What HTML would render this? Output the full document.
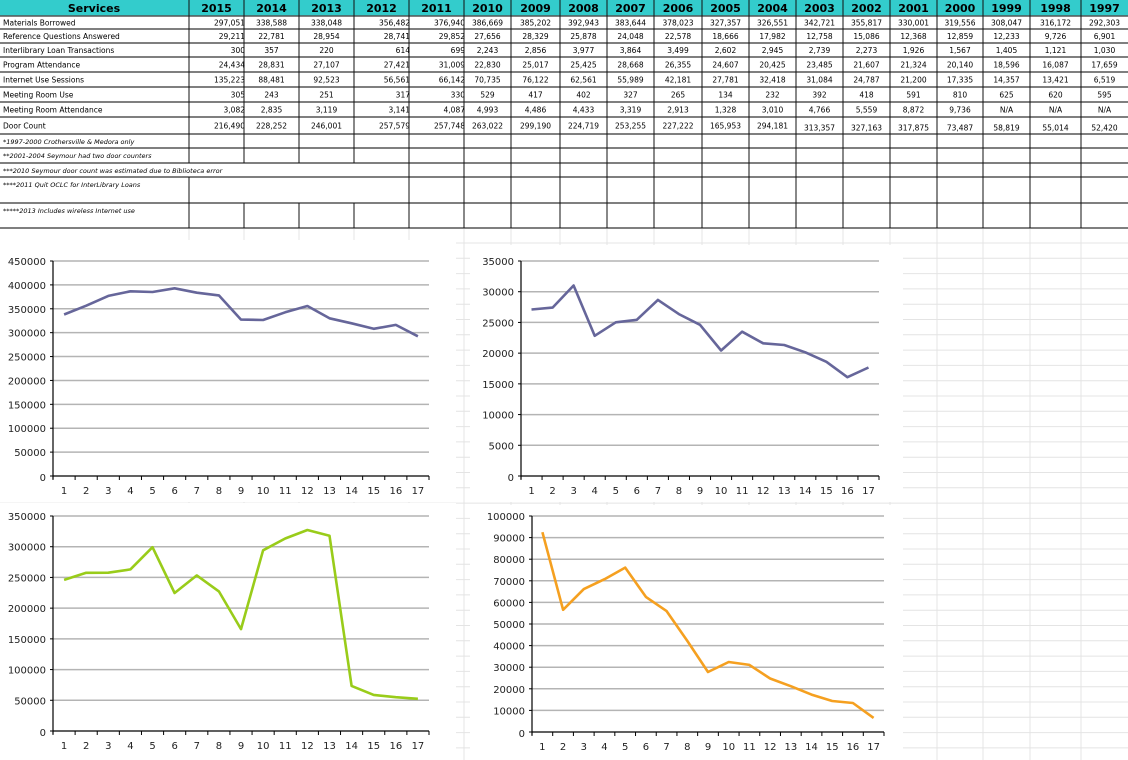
<!DOCTYPE html>
<html><head><meta charset="utf-8">
<style>
html,body{margin:0;padding:0;background:#fff;}
svg{display:block;font-family:"DejaVu Sans","Liberation Sans",sans-serif;}
</style></head>
<body>
<svg id="root" width="1128" height="760" viewBox="0 0 1128 760" xmlns="http://www.w3.org/2000/svg">
<g id="bggrid"></g>
<g id="table"></g>
<g id="charts"></g>
</svg>
<script>
const years=["2015","2014","2013","2012","2011","2010","2009","2008","2007","2006","2005","2004","2003","2002","2001","2000","1999","1998","1997"];
const services=["Materials Borrowed","Reference Questions Answered","Interlibrary Loan Transactions","Program Attendance","Internet Use Sessions","Meeting Room Use","Meeting Room Attendance","Door Count"];
const rowMaterials=["297,051","338,588","338,048","356,482","376,940","386,669","385,202","392,943","383,644","378,023","327,357","326,551","342,721","355,817","330,001","319,556","308,047","316,172","292,303"];
const rowReference=["29,211","22,781","28,954","28,741","29,852","27,656","28,329","25,878","24,048","22,578","18,666","17,982","12,758","15,086","12,368","12,859","12,233","9,726","6,901"];
const rowILL=["300","357","220","614","699","2,243","2,856","3,977","3,864","3,499","2,602","2,945","2,739","2,273","1,926","1,567","1,405","1,121","1,030"];
const rowProgram=["24,434","28,831","27,107","27,421","31,009","22,830","25,017","25,425","28,668","26,355","24,607","20,425","23,485","21,607","21,324","20,140","18,596","16,087","17,659"];
const rowInternet=["135,223","88,481","92,523","56,561","66,142","70,735","76,122","62,561","55,989","42,181","27,781","32,418","31,084","24,787","21,200","17,335","14,357","13,421","6,519"];
const rowMRUse=["305","243","251","317","330","529","417","402","327","265","134","232","392","418","591","810","625","620","595"];
const rowMRAtt=["3,082","2,835","3,119","3,141","4,087","4,993","4,486","4,433","3,319","2,913","1,328","3,010","4,766","5,559","8,872","9,736","N/A","N/A","N/A"];
const rowDoor=["216,490","228,252","246,001","257,579","257,748","263,022","299,190","224,719","253,255","227,222","165,953","294,181","313,357","327,163","317,875","73,487","58,819","55,014","52,420"];
const notes=["*1997-2000 Crothersville & Medora only","**2001-2004 Seymour had two door counters","***2010 Seymour door count was estimated due to Biblioteca error","****2011 Quit OCLC for InterLibrary Loans","*****2013 Includes wireless Internet use"];

const cats=["1","2","3","4","5","6","7","8","9","10","11","12","13","14","15","16","17"];
const materialsSeries=[338048,356482,376940,386669,385202,392943,383644,378023,327357,326551,342721,355817,330001,319556,308047,316172,292303];
const programSeries=[27107,27421,31009,22830,25017,25425,28668,26355,24607,20425,23485,21607,21324,20140,18596,16087,17659];
const doorSeries=[246001,257579,257748,263022,299190,224719,253255,227222,165953,294181,313357,327163,317875,73487,58819,55014,52420];
const internetSeries=[92523,56561,66142,70735,76122,62561,55989,42181,27781,32418,31084,24787,21200,17335,14357,13421,6519];
const ticks1=[0,50000,100000,150000,200000,250000,300000,350000,400000,450000];
const ticks2=[0,5000,10000,15000,20000,25000,30000,35000];
const ticks3=[0,50000,100000,150000,200000,250000,300000,350000];
const ticks4=[0,10000,20000,30000,40000,50000,60000,70000,80000,90000,100000];

const NS="http://www.w3.org/2000/svg";
function mk(parent,tag,attrs,text){const e=document.createElementNS(NS,tag);for(const k in attrs)e.setAttribute(k,attrs[k]);if(text!==undefined)e.textContent=text;parent.appendChild(e);return e;}

const colX=[0,189,244,299,354,409,464,511,560,607,654,702,749,796,843,890,937,983,1030,1081,1128];
const rowY=[16,29,43,57,72,87,102,117,134];
const noteY=[134,148,163,177,203,228];

const bg=document.getElementById('bggrid');
for(let y=243;y<760;y+=15.3){
  const l=mk(bg,'line',{x1:0,x2:1128,y1:y,y2:y,stroke:'#e4e4e4','stroke-width':1});
  
  
}
for(let i=1;i<colX.length-1;i++){
  const l=mk(bg,'line',{x1:colX[i],x2:colX[i],y1:229,y2:760,stroke:'#e4e4e4','stroke-width':1});
  
  
}

const tb=document.getElementById('table');
const hdr=mk(tb,'rect',{x:0,y:0,width:1128,height:16,fill:'#33cccc'});


const sh=mk(tb,'text',{x:94,y:12,'text-anchor':'middle','font-size':11,'font-weight':'bold',fill:'#000'},'Services');


years.forEach((yr,i)=>{
  const t=mk(tb,'text',{x:(colX[i+1]+colX[i+2])/2,y:12,'text-anchor':'middle','font-size':11,'font-weight':'bold',fill:'#000'},yr);
  
  
});
const rows=[rowMaterials,rowReference,rowILL,rowProgram,rowInternet,rowMRUse,rowMRAtt,rowDoor];
const rightAlign=[0,3,4];
rows.forEach((r,ri)=>{
  const yTop=rowY[ri],yB=rowY[ri+1],ty=(yTop+yB)/2+3;
  const lab=mk(tb,'text',{x:3,y:ty,'font-size':7.5,fill:'#000'},services[ri]);
  
  
  r.forEach((v,ci)=>{
    const x0=colX[ci+1],x1=colX[ci+2];
    let t;
    if(rightAlign.includes(ci)) t=mk(tb,'text',{x:x1+1,y:ty,'text-anchor':'end','font-size':7.5,fill:'#000'},v);
    else t=mk(tb,'text',{x:(x0+x1)/2,y:ty+(ri===7&&ci>=12?2:0),'text-anchor':'middle','font-size':7.5,fill:'#000'},v);
    
    
  });
});
notes.forEach((n,i)=>{
  const t=mk(tb,'text',{x:3,y:noteY[i]+10,'font-size':6.5,'font-style':'italic',fill:'#000'},n);
  
  
});
[...rowY,...noteY.slice(1)].forEach(y=>{
  const l=mk(tb,'line',{x1:0,x2:1128,y1:y,y2:y,stroke:'#555',"stroke-width":1.6});
  
  
});
for(let i=1;i<colX.length-1;i++){
  const x=colX[i];
  let segs=[[0,228]];
  if(i>=1&&i<=4){
    if(i===1) segs=[[0,163],[177,228]];
    else segs=[[0,163],[203,228]];
  }
  segs.forEach(s=>{
    const l=mk(tb,'line',{x1:x,x2:x,y1:s[0],y2:s[1],stroke:'#111','stroke-width':1});
    
    
  });
}

const ch=document.getElementById('charts');
function chart(name,box,plot,ticks,series,color){
  const g=mk(ch,'g',{});
  
  
  const bgR=mk(g,'rect',{x:box[0],y:box[1],width:box[2],height:box[3],fill:'#fff'});
  
  
  const [L,T,R,B]=plot; const maxV=ticks[ticks.length-1];
  const yS=v=>B-(v/maxV)*(B-T);
  const step=(R-L)/cats.length;
  const xS=i=>L+(i+0.5)*step;
  ticks.forEach(tv=>{
    const y=yS(tv);
    if(tv>0){const gl=mk(g,'line',{x1:L,x2:R,y1:y,y2:y,stroke:'#b4b4b4','stroke-width':1.5});
    
    }
    const tk=mk(g,'line',{x1:L-3,x2:L,y1:y,y2:y,stroke:'#000','stroke-width':1});
    
    
    const lb=mk(g,'text',{x:L-7,y:y+(tv===0?5:4),'text-anchor':'end','font-size':10,fill:'#222'},String(tv));
    
    
  });
  const ya=mk(g,'line',{x1:L,x2:L,y1:T,y2:B+3,stroke:'#000','stroke-width':1.2});
  
  
  const xa=mk(g,'line',{x1:L,x2:R,y1:B,y2:B,stroke:'#000','stroke-width':1.2});
  
  
  for(let i=0;i<=cats.length;i++){
    const x=L+i*step;
    const tk=mk(g,'line',{x1:x,x2:x,y1:B,y2:B+4,stroke:'#000','stroke-width':1});
    
    
  }
  cats.forEach((c,i)=>{
    const lb=mk(g,'text',{x:xS(i),y:B+18,'text-anchor':'middle','font-size':10,fill:'#222'},c);
    
    
  });
  const pts=series.map((v,i)=>xS(i).toFixed(1)+','+yS(v).toFixed(1)).join(' ');
  const pl=mk(g,'polyline',{points:pts,fill:'none',stroke:color,'stroke-width':2.6,'stroke-linejoin':'round'});
  
  
}
chart('materials-borrowed-chart',[0,240,456,262],[53,261,429,476],ticks1,materialsSeries,'#66669a');
chart('program-attendance-chart',[470,245,433,257],[521,261,879,476],ticks2,programSeries,'#66669a');
chart('door-count-chart',[0,503,456,257],[53,516,429,731],ticks3,doorSeries,'#99cc1a');
chart('internet-sessions-chart',[470,505,433,255],[532,516,884,732],ticks4,internetSeries,'#f5a020');
</script>
</body></html>
